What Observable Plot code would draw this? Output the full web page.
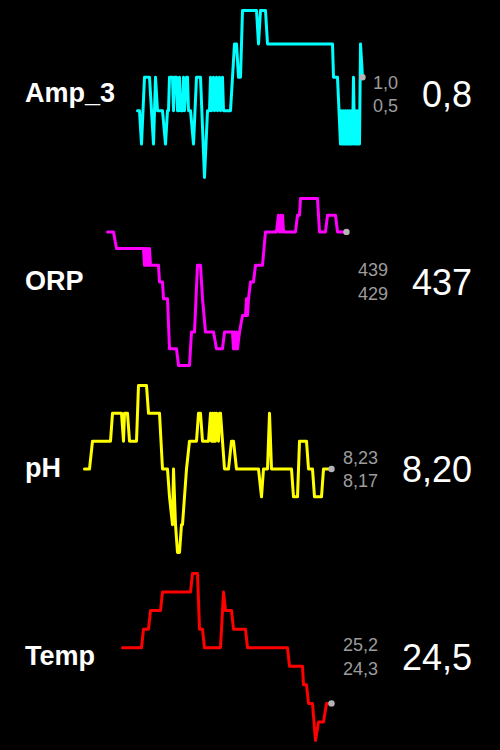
<!DOCTYPE html>
<html>
<head>
<meta charset="utf-8">
<script src="https://cdn.jsdelivr.net/npm/d3@7"></script>
<script src="https://cdn.jsdelivr.net/npm/@observablehq/plot@0.6"></script>
<style>
  html, body { margin: 0; padding: 0; background: #000; }
  #chart { width: 500px; height: 750px; position: relative; overflow: hidden; }
  .row { position: relative; width: 500px; height: 187.5px; }
  .row svg { position: absolute; left: 0; top: 0; display: block; }
  .label { position: absolute; left: 25px; top: 93px; transform: translateY(-50%);
           font: bold 27px "Liberation Sans", Arial, sans-serif; line-height: 1; color: #fff; }
  .right { position: absolute; right: 28px; top: 94.5px; transform: translateY(-50%);
           display: flex; align-items: center; font-family: "Liberation Sans", Arial, sans-serif; }
  .minmax { text-align: right; font-size: 18px; line-height: 23.5px; color: #9c9c9c; margin-right: 24px; }
  .current { font-size: 36px; line-height: 1; color: #fff; }
</style>
</head>
<body>
<div id="chart"></div>
<script>
// ---- data ----
const labels   = ["Amp_3", "ORP", "pH", "Temp"];
const currents = [0.8, 437, 8.20, 24.5];
const maxima   = [1.0, 439, 8.23, 25.2];
const minima   = [0.5, 429, 8.17, 24.3];
const decimals = [1, 0, 2, 1];

// time (minutes) / value samples
const amp3 = [[53,0.7],[55,0.7],[57,0.6],[60,0.8],[65,0.8],[69,0.6],[71,0.8],[73,0.7],[78,0.7],[81,0.6],[83,0.7],[84,0.7],[85,0.8],[88,0.8],[89,0.7],[90,0.8],[92,0.8],[93,0.7],[94,0.7],[95,0.8],[96,0.7],[98,0.7],[99,0.8],[100,0.7],[102,0.8],[103,0.8],[104,0.7],[106,0.7],[109,0.6],[112,0.8],[116,0.8],[120,0.5],[123,0.7],[125,0.7],[126,0.8],[127,0.7],[129,0.8],[130,0.7],[132,0.8],[133,0.7],[135,0.8],[136,0.7],[138,0.8],[139,0.7],[146,0.7],[148,0.8],[150,0.9],[152,0.9],[154,0.8],[156,0.8],[158,1.0],[172,1.0],[174,0.9],[176,1.0],[181,1.0],[183,0.9],[248,0.9],[249,0.8],[253,0.8],[256,0.6],[257,0.7],[258,0.6],[259,0.7],[260,0.6],[261,0.7],[262,0.6],[263,0.7],[264,0.6],[265,0.7],[266,0.6],[267,0.7],[268,0.6],[269,0.8],[270,0.6],[271,0.7],[272,0.6],[273,0.7],[274,0.6],[275,0.6],[276,0.9],[278,0.8]];
const orp = [[23,437],[29,437],[32,436],[59,436],[60,435],[61,436],[62,435],[63,436],[64,435],[65,436],[66,435],[68,435],[74,435],[75,434],[78,434],[79,433],[83,433],[85,430],[92,430],[94,429],[105,429],[107,431],[110,431],[113,435],[116,435],[118,433],[121,431],[129,431],[132,430],[138,430],[140,431],[148,431],[149,430],[150,431],[151,430],[152,431],[153,430],[155,431],[158,432],[161,432],[162,433],[163,432],[164,433],[166,434],[169,434],[171,435],[178,435],[181,437],[192,437],[194,438],[195,437],[196,438],[197,437],[198,438],[199,437],[211,437],[213,438],[215,438],[216,439],[233,439],[235,437],[241,437],[243,438],[251,438],[253,437],[262,437]];
const ph = [[0,8.20],[5,8.20],[8,8.21],[26,8.21],[28,8.22],[37,8.22],[39,8.21],[40,8.22],[43,8.22],[45,8.21],[52,8.21],[54,8.23],[62,8.23],[64,8.22],[75,8.22],[78,8.20],[83,8.20],[85,8.19],[88,8.18],[89,8.20],[91,8.18],[93,8.17],[95,8.17],[97,8.18],[98,8.18],[102,8.20],[105,8.21],[112,8.21],[114,8.22],[116,8.22],[118,8.21],[124,8.21],[126,8.22],[127,8.21],[128,8.22],[129,8.21],[130,8.22],[131,8.21],[132,8.22],[134,8.21],[135,8.22],[136,8.22],[138,8.21],[140,8.20],[144,8.20],[147,8.21],[149,8.21],[152,8.20],[174,8.20],[177,8.19],[179,8.20],[183,8.20],[185,8.22],[187,8.20],[207,8.20],[209,8.19],[213,8.19],[215,8.21],[222,8.21],[224,8.20],[228,8.20],[230,8.19],[237,8.19],[239,8.20],[247,8.20]];
const temp = [[38,24.8],[57,24.8],[59,24.9],[64,24.9],[66,25.0],[76,25.0],[78,25.1],[106,25.1],[108,25.2],[113,25.2],[115,24.9],[118,24.9],[120,24.8],[136,24.8],[139,25.1],[141,25.0],[147,25.0],[149,24.9],[161,24.9],[163,24.8],[203,24.8],[205,24.7],[218,24.7],[219,24.6],[222,24.6],[224,24.5],[228,24.5],[231,24.3],[234,24.4],[239,24.4],[242,24.5],[247,24.5]];
const series = [amp3, orp, ph, temp];
const timeDomain = [0, 278];

// ---- styles ----
const colors = ["#00ffff", "#ff00ff", "#ffff00", "#ff0000"];

const locale = d3.formatLocale({decimal: ",", thousands: ".", grouping: [3], currency: ["", ""]});
const fmt = (v, d) => locale.format(`.${d}f`)(v);

const chart = document.getElementById("chart");
labels.forEach((name, i) => {
  const data = series[i].map(([t, v]) => ({t, v}));
  const row = document.createElement("div");
  row.className = "row";
  const svg = Plot.plot({
    width: 500,
    height: 187.5,
    marginLeft: 84,
    marginRight: 138,
    marginTop: 10,
    marginBottom: 10.5,
    style: {background: "transparent", overflow: "visible"},
    x: {domain: timeDomain, axis: null},
    y: {domain: [minima[i], maxima[i]], axis: null},
    marks: [
      Plot.line(data, {x: "t", y: "v", stroke: colors[i], strokeWidth: 3, strokeLinejoin: "round", strokeLinecap: "round"}),
      Plot.dot([data[data.length - 1]], {x: "t", y: "v", r: 3.2, fill: "#b4b4b4", stroke: "none"})
    ]
  });
  row.appendChild(svg);
  const lab = document.createElement("div");
  lab.className = "label";
  lab.textContent = name;
  row.appendChild(lab);
  const right = document.createElement("div");
  right.className = "right";
  right.innerHTML = `<div class="minmax"><div>${fmt(maxima[i], decimals[i])}</div><div>${fmt(minima[i], decimals[i])}</div></div><div class="current">${fmt(currents[i], decimals[i])}</div>`;
  row.appendChild(right);
  chart.appendChild(row);
});
</script>
</body>
</html>
